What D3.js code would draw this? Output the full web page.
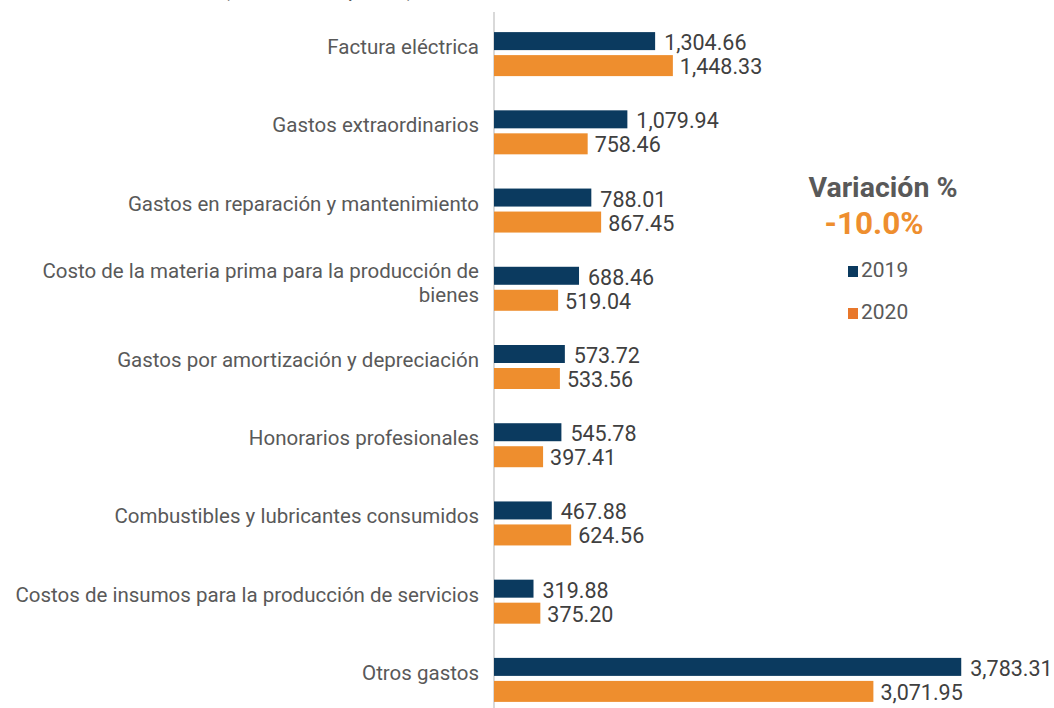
<!DOCTYPE html>
<html>
<head>
<meta charset="utf-8">
<script src="https://cdn.jsdelivr.net/npm/d3@7"></script>
<style>
  body { margin: 0; background: #fff; }
  svg { font-family: Roboto, "Noto Sans", sans-serif; }
</style>
</head>
<body>
<svg id="chart" width="1054" height="708"></svg>
<script>
// data
const categories = [
    "Factura eléctrica",
    "Gastos extraordinarios",
    "Gastos en reparación y mantenimiento",
    "Costo de la materia prima para la producción de bienes",
    "Gastos por amortización y depreciación",
    "Honorarios profesionales",
    "Combustibles y lubricantes consumidos",
    "Costos de insumos para la producción de servicios",
    "Otros gastos"
]
const values2019 = [1304.66, 1079.94, 788.01, 688.46, 573.72, 545.78, 467.88, 319.88, 3783.31]
const values2020 = [1448.33, 758.46, 867.45, 519.04, 533.56, 397.41, 624.56, 375.20, 3071.95]
const years = ["2019", "2020"]
const variationLabel = "Variación %"
const variationValue = "-10.0%"

const svg = d3.select("#chart")

const blue = "#0b3a5f", orange = "#ee8e2e"
const legendColors = ["#0b3a5f", "#e8772b"]

let x = d3.scaleLinear().domain([0, 4000]).range([494, 988])
let y = d3.scaleBand().domain(categories).range([14, 718])

// title, cut off at the top of the picture
svg.append("text")
    .attr("x", 75)
    .attr("y", -4)
    .attr("font-size", "22px")
    .style("fill", "#595959")
    .text("Gastos totales (millones de pesos)")

// vertical axis line
svg.append("line")
    .attr("x1", 494).attr("x2", 494)
    .attr("y1", 12).attr("y2", 708)
    .style("stroke", "#d9d9d9")
    .style("stroke-width", 2)

let g = svg.append("g")

const rows = categories.map(function (c, i) {
    return { cat: c, v19: values2019[i], v20: values2020[i] }
})

// 2019 bars
g.selectAll(".bar19")
    .data(rows).enter()
    .append("rect")
    .attr("class", "bar19")
    .attr("x", x(0))
    .attr("y", function (d) { return y(d.cat) + y.bandwidth() / 2 - 21 })
    .attr("width", function (d) { return x(d.v19) - x(0) })
    .attr("height", 18)
    .style("fill", blue)

// 2020 bars
g.selectAll(".bar20")
    .data(rows).enter()
    .append("rect")
    .attr("class", "bar20")
    .attr("x", x(0))
    .attr("y", function (d) { return y(d.cat) + y.bandwidth() / 2 + 2 })
    .attr("width", function (d) { return x(d.v20) - x(0) })
    .attr("height", 21)
    .style("fill", orange)

const fmt = d3.format(",.2f")

g.selectAll(".lab19")
    .data(rows).enter()
    .append("text")
    .attr("x", function (d) { return x(d.v19) + 9 })
    .attr("y", function (d) { return y(d.cat) + y.bandwidth() / 2 - 3 })
    .attr("font-size", "21.5px")
    .style("fill", "#404040")
    .text(function (d) { return fmt(d.v19) })

g.selectAll(".lab20")
    .data(rows).enter()
    .append("text")
    .attr("x", function (d) { return x(d.v20) + 7 })
    .attr("y", function (d) { return y(d.cat) + y.bandwidth() / 2 + 21 })
    .attr("font-size", "21.5px")
    .style("fill", "#404040")
    .text(function (d) { return fmt(d.v20) })

// category labels, long one wraps on two lines
g.selectAll(".cat")
    .data(rows).enter()
    .append("text")
    .attr("class", "cat")
    .attr("text-anchor", "end")
    .attr("font-size", "20.5px")
    .style("fill", "#595959")
    .each(function (d) {
        let t = d3.select(this)
        let cy = y(d.cat) + y.bandwidth() / 2
        if (d.cat.length > 50) {
            let cut = d.cat.lastIndexOf(" ")
            t.append("tspan").attr("x", 479).attr("y", cy - 10).text(d.cat.slice(0, cut))
            t.append("tspan").attr("x", 479).attr("y", cy + 14).text(d.cat.slice(cut + 1))
        } else {
            t.attr("x", 479).attr("y", cy + 1).text(d.cat)
        }
    })

// legend and variation
svg.append("text")
    .attr("x", 883).attr("y", 197)
    .attr("text-anchor", "middle")
    .attr("font-size", "28.5px")
    .attr("font-weight", "bold")
    .style("fill", "#595959")
    .text(variationLabel)

svg.append("text")
    .attr("x", 874).attr("y", 234)
    .attr("text-anchor", "middle")
    .attr("font-size", "31.5px")
    .attr("font-weight", "bold")
    .style("fill", orange)
    .text(variationValue)

years.forEach(function (yr, i) {
    let ly = 277 + i * 42
    svg.append("rect")
        .attr("x", 848).attr("y", ly - 11)
        .attr("width", 10).attr("height", 11)
        .style("fill", legendColors[i])
    svg.append("text")
        .attr("x", 861).attr("y", ly)
        .attr("font-size", "21px")
        .style("fill", "#595959")
        .text(yr)
})
</script>
</body>
</html>
